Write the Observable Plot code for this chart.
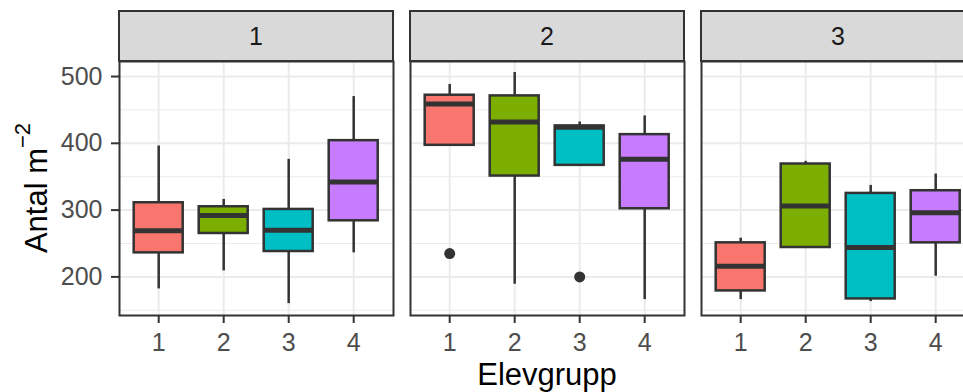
<!DOCTYPE html>
<html>
<head>
<meta charset="utf-8">
<script src="https://cdn.jsdelivr.net/npm/d3@7"></script>
<script src="https://cdn.jsdelivr.net/npm/@observablehq/plot@0.6"></script>
<style>
  html, body { margin: 0; padding: 0; background: #ffffff; overflow: hidden; width: 963px; height: 392px; }
  #chart { width: 963px; height: 392px; overflow: hidden; }
  #chart svg { display: block; max-width: none !important; width: 980px !important; height: 392px !important; }
</style>
</head>
<body>
<div id="chart"></div>
<script>
// ---- data ----
const facets = [1, 2, 3];
const groups = [1, 2, 3, 4];
const groupColors = ["#F8766D", "#7CAE00", "#00BFC4", "#C77CFF"];
// values listed facet by facet, groups 1..4 within each facet
const whiskerLow  = [182, 209, 160, 236,   397, 189, 367, 166,   166, 244, 163, 201];
const quartile1   = [236, 265, 238, 284,   397, 351, 367, 302,   179, 244, 167, 251];
const medianVal   = [269, 292, 270, 342,   459, 432, 424, 376,   216, 306, 244, 296];
const quartile3   = [311, 305, 301, 404,   472, 471, 426, 413,   251, 369, 325, 329];
const whiskerHigh = [396, 316, 376, 470,   488, 506, 432, 441,   258, 373, 337, 354];
const outlierFacet = [2, 2];
const outlierGroup = [1, 3];
const outlierValue = [235, 200];
const yTicks = [200, 300, 400, 500];
const yMinor = [150, 250, 350, 450];
const yTitle = "Antal m";
const yTitleSup = "\u22122";
const xTitle = "Elevgrupp";

// ---- table built from the arrays ----
const rows = [];
facets.forEach((f, i) => groups.forEach((g, j) => {
  const k = i * groups.length + j;
  rows.push({facet: f, group: g, lo: whiskerLow[k], q1: quartile1[k], med: medianVal[k], q3: quartile3[k], hi: whiskerHigh[k]});
}));
const outliers = outlierValue.map((v, i) => ({facet: outlierFacet[i], group: outlierGroup[i], value: v}));

const FONT = "'Liberation Sans', Arial, Helvetica, sans-serif";
const W = 980, H = 392, mTop = 61, mBottom = 77, mLeft = 118.3, mRight = 4.8;
const stripH = 50;

const plot = Plot.plot({
  width: W, height: H,
  marginTop: mTop, marginBottom: mBottom, marginLeft: mLeft, marginRight: mRight,
  style: {fontFamily: FONT, background: "#ffffff", overflow: "visible", maxWidth: "none"},
  fx: {domain: facets, axis: null, paddingInner: 17 / 291.3, paddingOuter: 0, label: null},
  x: {type: "band", domain: groups, paddingInner: 0.25, paddingOuter: 0.225, label: null},
  y: {domain: [142.2, 522.5], label: null},
  color: {type: "ordinal", domain: groups, range: groupColors},
  marks: [
    Plot.gridY(yMinor, {stroke: "#EBEBEB", strokeOpacity: 1, strokeWidth: 1}),
    Plot.gridY(yTicks, {stroke: "#EBEBEB", strokeOpacity: 1, strokeWidth: 2}),
    Plot.gridX(groups, {stroke: "#EBEBEB", strokeOpacity: 1, strokeWidth: 2}),
    Plot.ruleX(rows, {fx: "facet", x: "group", y1: "lo", y2: "q1", stroke: "#333333", strokeWidth: 2.5}),
    Plot.ruleX(rows, {fx: "facet", x: "group", y1: "q3", y2: "hi", stroke: "#333333", strokeWidth: 2.5}),
    Plot.barY(rows, {fx: "facet", x: "group", y1: "q1", y2: "q3", fill: "group", stroke: "#333333", strokeWidth: 2.5}),
    Plot.tickY(rows, {fx: "facet", x: "group", y: "med", stroke: "#333333", strokeWidth: 5}),
    Plot.dot(outliers, {fx: "facet", x: "group", y: "value", r: 5.5, fill: "#333333", stroke: "none"}),
    Plot.frame({stroke: "#333333", strokeWidth: 2}),
    Plot.axisY(yTicks, {anchor: "left", tickSize: 8, tickPadding: 9, fontSize: 25, stroke: "#333333", strokeWidth: 2, fill: "#4D4D4D", label: null}),
    Plot.axisX(groups, {anchor: "bottom", tickSize: 8, tickPadding: 10, fontSize: 25, stroke: "#333333", strokeWidth: 2, fill: "#4D4D4D", label: null})
  ]
});

// ---- facet strips, axis titles (positioned through the fx scale) ----
const svg = d3.select(plot);
const fxs = plot.scale("fx");
const fxApply = fxs.apply ? (v => fxs.apply(v)) :
  (() => { const s = d3.scaleBand().domain(fxs.domain).range(fxs.range).paddingInner(fxs.paddingInner ?? 0).paddingOuter(fxs.paddingOuter ?? 0); return v => s(v); })();
const bw = fxs.bandwidth;
const strips = svg.append("g");
facets.forEach(f => {
  const x0 = fxApply(f);
  strips.append("rect")
    .attr("x", x0).attr("y", mTop - stripH).attr("width", bw).attr("height", stripH)
    .attr("fill", "#D9D9D9").attr("stroke", "#333333").attr("stroke-width", 2);
  strips.append("text")
    .attr("x", x0 + bw / 2).attr("y", mTop - stripH / 2)
    .attr("dy", "0.36em").attr("text-anchor", "middle")
    .attr("font-family", FONT).attr("font-size", 25).attr("fill", "#1A1A1A")
    .text(f);
});
const panelLeft = fxApply(facets[0]);
const panelRight = fxApply(facets[facets.length - 1]) + bw;
const yt = svg.append("text")
  .attr("transform", `translate(46.7,${(mTop + (H - mBottom)) / 2}) rotate(-90)`)
  .attr("text-anchor", "middle")
  .attr("font-family", FONT).attr("font-size", 31).attr("fill", "#000000");
yt.append("tspan").text(yTitle);
yt.append("tspan").attr("dy", -17).attr("font-size", 22).text(yTitleSup);
svg.append("text")
  .attr("x", (panelLeft + panelRight) / 2).attr("y", 385)
  .attr("text-anchor", "middle")
  .attr("font-family", FONT).attr("font-size", 31).attr("fill", "#000000")
  .text(xTitle);

document.getElementById("chart").appendChild(plot);
</script>
</body>
</html>
